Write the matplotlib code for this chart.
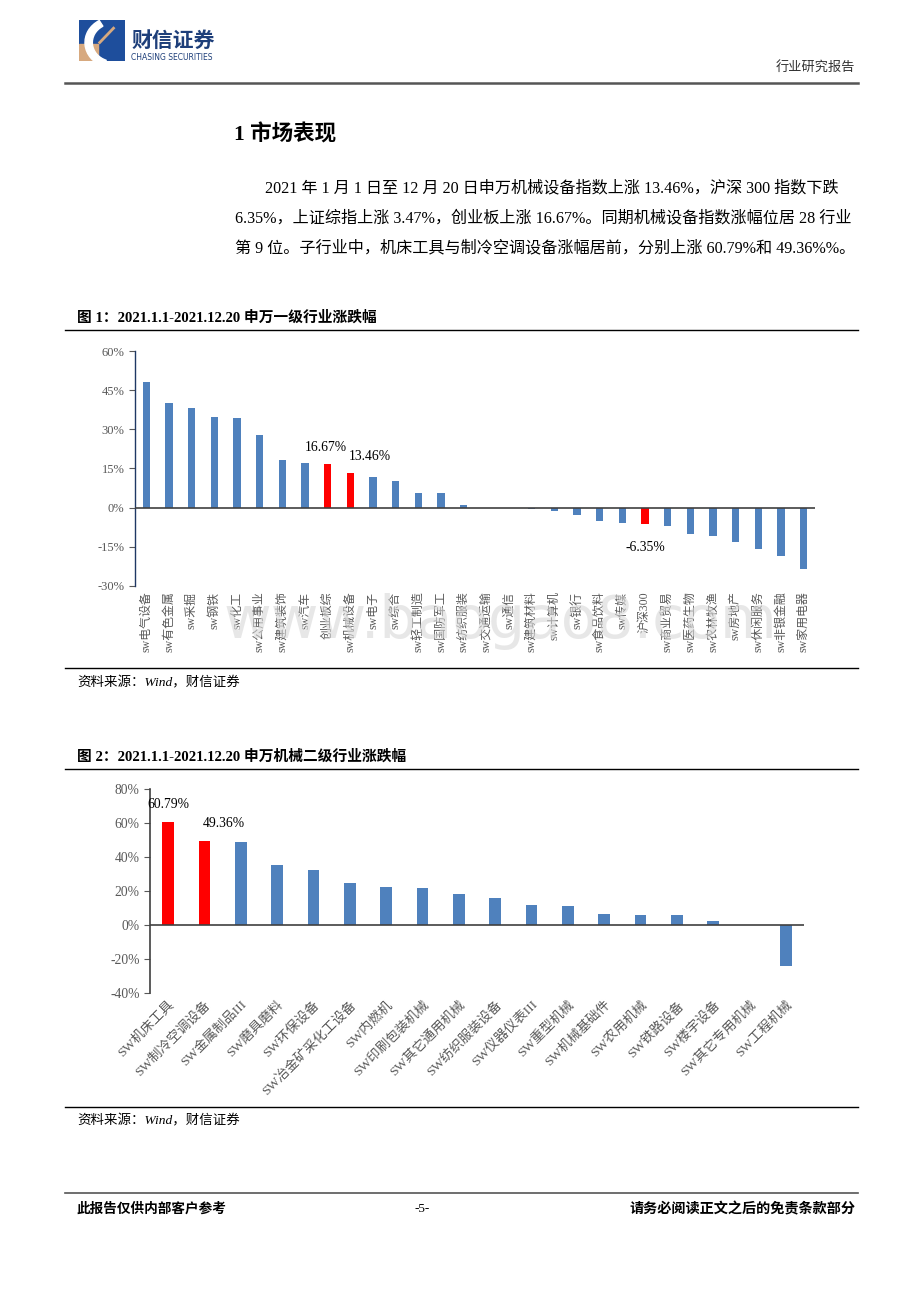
import matplotlib.pyplot as plt
from matplotlib.patches import Rectangle, Wedge
from matplotlib.ticker import FuncFormatter

plt.rcParams['font.family'] = ['Liberation Serif', 'Noto Sans CJK SC', 'DejaVu Sans']
plt.rcParams['axes.unicode_minus'] = False

# ---- 图1 数据: 申万一级行业涨跌幅 (%) ----
ind1_names = ["sw电气设备", "sw有色金属", "sw采掘", "sw钢铁", "sw化工", "sw公用事业",
              "sw建筑装饰", "sw汽车", "创业板综", "sw机械设备", "sw电子", "sw综合",
              "sw轻工制造", "sw国防军工", "sw纺织服装", "sw交通运输", "sw通信", "sw建筑材料",
              "sw计算机", "sw银行", "sw食品饮料", "sw传媒", "沪深300", "sw商业贸易",
              "sw医药生物", "sw农林牧渔", "sw房地产", "sw休闲服务", "sw非银金融", "sw家用电器"]
ind1_values = [48.1, 40.1, 38.3, 34.7, 34.4, 27.7, 18.4, 17.0, 16.67, 13.46, 11.7, 10.3,
               5.5, 5.5, 1.0, -0.3, -0.3, -0.6, -1.1, -2.9, -5.1, -6.0, -6.35, -6.9,
               -10.0, -10.9, -13.2, -15.7, -18.4, -23.4]
ind1_highlight = ["创业板综", "sw机械设备", "沪深300"]
ind1_labels = {"创业板综": "16.67%", "sw机械设备": "13.46%", "沪深300": "-6.35%"}

# ---- 图2 数据: 申万机械二级行业涨跌幅 (%) ----
ind2_names = ["SW机床工具", "SW制冷空调设备", "SW金属制品III", "SW磨具磨料", "SW环保设备",
              "SW冶金矿采化工设备", "SW内燃机", "SW印刷包装机械", "SW其它通用机械",
              "SW纺织服装设备", "SW仪器仪表III", "SW重型机械", "SW机械基础件", "SW农用机械",
              "SW铁路设备", "SW楼宇设备", "SW其它专用机械", "SW工程机械"]
ind2_values = [60.79, 49.36, 48.8, 35.1, 32.4, 24.9, 22.2, 21.6, 18.0, 15.9, 12.0, 11.2,
               6.5, 5.7, 5.7, 2.4, 0.0, -24.1]
ind2_highlight = ["SW机床工具", "SW制冷空调设备"]
ind2_labels = {"SW机床工具": "60.79%", "SW制冷空调设备": "49.36%"}

W, H = 920, 1302
BLUE = '#4F81BD'
RED = '#FF0000'

fig = plt.figure(figsize=(W / 100, H / 100), dpi=100)


def fx(x):
    return x / W


def fy(y):
    return 1 - y / H


def hline(y, x0=65, x1=858, color='black', lw=1.0):
    fig.add_artist(plt.Line2D([fx(x0), fx(x1)], [fy(y), fy(y)], color=color, lw=lw))


def txt(x, y, s, **kw):
    return fig.text(fx(x), fy(y), s, **kw)


# ---- 页眉 ----
logo = fig.add_axes([fx(79), fy(61), fx(46), 41 / H])
logo.set_xlim(0, 1)
logo.set_ylim(0, 1)
logo.axis('off')
logo.add_patch(Rectangle((0, 0), 1, 1, color='#1E4E9C'))
logo.add_patch(Rectangle((0, 0), 0.42, 0.42, color='#D7A97F'))
logo.add_patch(Wedge((0.75, 0.45), 0.62, 120, 250, width=0.16, color='white'))
logo.plot([0.45, 0.75], [0.45, 0.8], color='#D7A97F', lw=2)
txt(131, 40, "财信证券", fontsize=15, color='#1E3F7A', fontweight='bold',
    family=['Noto Sans CJK SC'], va='center')
txt(131, 57, "CHASING SECURITIES", fontsize=5.5, color='#1E3F7A',
    family=['DejaVu Sans'], va='center')
txt(855, 68, "行业研究报告", fontsize=9.5, ha='right', va='center', color='#333333')
hline(83, color='#555555', lw=1.8)

# ---- 正文 ----
txt(234, 135, "1 市场表现", fontsize=15.5, fontweight='bold', va='center')
body = [
    (265, 188, "2021 年 1 月 1 日至 12 月 20 日申万机械设备指数上涨 13.46%，沪深 300 指数下跌"),
    (235, 218, "6.35%，上证综指上涨 3.47%，创业板上涨 16.67%。同期机械设备指数涨幅位居 28 行业"),
    (235, 248, "第 9 位。子行业中，机床工具与制冷空调设备涨幅居前，分别上涨 60.79%和 49.36%%。"),
]
for bx, by, s in body:
    txt(bx, by, s, fontsize=11.6, va='center')

pct = FuncFormatter(lambda v, p: f"{v:.0f}%")

# ---- 图1 ----
txt(77, 318, "图 1：2021.1.1-2021.12.20 申万一级行业涨跌幅", fontsize=10.6, fontweight='bold', va='center')
hline(330, lw=1.0)

ax1 = fig.add_axes([fx(135), fy(586), (815 - 135) / W, (586 - 351) / H])
x1 = range(len(ind1_names))
c1 = [RED if n in ind1_highlight else BLUE for n in ind1_names]
ax1.bar(x1, ind1_values, width=0.33, color=c1, zorder=2)
ax1.axhline(0, color='#404040', lw=1.2, zorder=3)
ax1.set_xlim(-0.5, len(ind1_names) - 0.5)
ax1.set_ylim(-30, 60)
ax1.set_yticks(range(-30, 61, 15))
ax1.yaxis.set_major_formatter(pct)
ax1.set_xticks(list(x1))
ax1.set_xticklabels(ind1_names, rotation=90, fontsize=8.6, color='#595959', va='top')
ax1.tick_params(axis='x', length=0, pad=4)
ax1.tick_params(axis='y', labelsize=9, colors='#595959', length=4, direction='out')
for s in ['top', 'right', 'bottom']:
    ax1.spines[s].set_visible(False)
ax1.spines['left'].set_color('#1F3864')
ax1.spines['left'].set_linewidth(1.0)
for i, n in enumerate(ind1_names):
    if n in ind1_labels:
        v = ind1_values[i]
        if v >= 0:
            ax1.annotate(ind1_labels[n], (i, v), xytext=(-1, 7), textcoords='offset points',
                         ha='center' if n == "创业板综" else 'left', va='bottom', fontsize=9.8)
        else:
            ax1.annotate(ind1_labels[n], (i, v), xytext=(0, -12), textcoords='offset points',
                         ha='center', va='top', fontsize=9.8)

# 水印
txt(500, 622, "www.baogao8.com", fontsize=42, color='#d8d8d8', alpha=0.6,
    ha='center', va='center', family=['DejaVu Sans'], zorder=0)

hline(668, lw=1.0)
txt(77, 683, "资料来源：Wind，财信证券", fontsize=9.7, style='italic', va='center')

# ---- 图2 ----
txt(77, 757, "图 2：2021.1.1-2021.12.20 申万机械二级行业涨跌幅", fontsize=10.6, fontweight='bold', va='center')
hline(769, lw=1.0)

ax2 = fig.add_axes([fx(150), fy(993), (804 - 150) / W, (993 - 789) / H])
x2 = range(len(ind2_names))
c2 = [RED if n in ind2_highlight else BLUE for n in ind2_names]
ax2.bar(x2, ind2_values, width=0.33, color=c2, zorder=2)
ax2.axhline(0, color='#404040', lw=1.2, zorder=3)
ax2.set_xlim(-0.5, len(ind2_names) - 0.5)
ax2.set_ylim(-40, 80)
ax2.set_yticks(range(-40, 81, 20))
ax2.yaxis.set_major_formatter(pct)
ax2.set_xticks(list(x2))
ax2.set_xticklabels(ind2_names, rotation=45, ha='right', va='top', rotation_mode='anchor',
                    fontsize=9.6, color='#595959')
ax2.tick_params(axis='x', length=0, pad=4)
ax2.tick_params(axis='y', labelsize=9.8, colors='#595959', length=4, direction='out')
for s in ['top', 'right', 'bottom']:
    ax2.spines[s].set_visible(False)
ax2.spines['left'].set_color('#404040')
ax2.spines['left'].set_linewidth(1.2)
for i, n in enumerate(ind2_names):
    if n in ind2_labels:
        ax2.annotate(ind2_labels[n], (i, ind2_values[i]), xytext=(0 if i == 0 else 14, 8),
                     textcoords='offset points', ha='center', va='bottom', fontsize=9.8)

hline(1107, lw=1.0)
txt(77, 1121, "资料来源：Wind，财信证券", fontsize=9.7, style='italic', va='center')

# ---- 页脚 ----
hline(1193, color='#555555', lw=1.2)
txt(77, 1209, "此报告仅供内部客户参考", fontsize=9.8, fontweight='bold', style='italic', va='center')
txt(422, 1209, "-5-", fontsize=9.5, ha='center', va='center')
txt(855, 1209, "请务必阅读正文之后的免责条款部分", fontsize=10.2, fontweight='bold', style='italic',
    ha='right', va='center')

fig.savefig("out.png", dpi=100)
